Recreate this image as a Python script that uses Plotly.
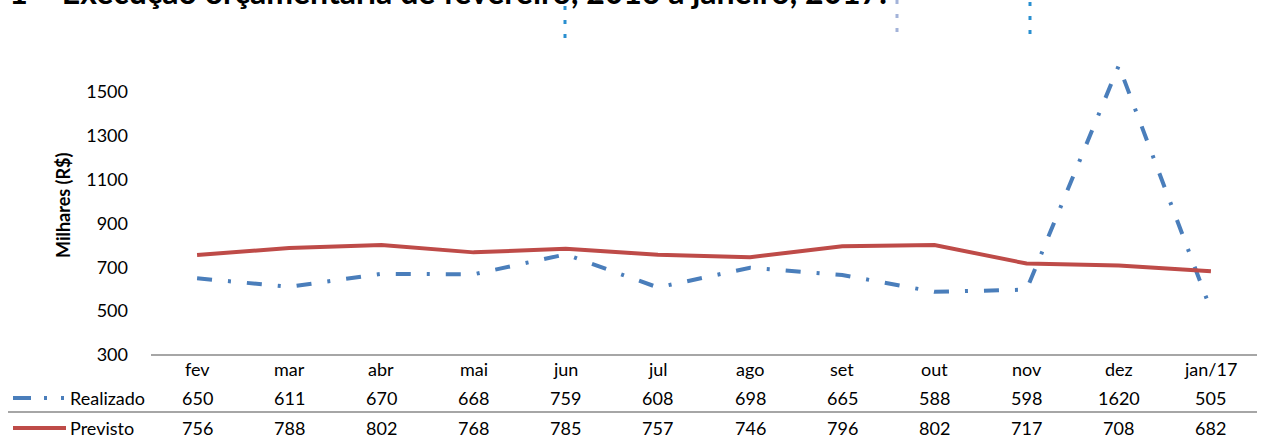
import plotly.graph_objects as go

categories = ["fev", "mar", "abr", "mai", "jun", "jul", "ago", "set", "out", "nov", "dez", "jan/17"]
realizado = [650, 611, 670, 668, 759, 608, 698, 665, 588, 598, 1620, 505]
previsto = [756, 788, 802, 768, 785, 757, 746, 796, 802, 717, 708, 682]
y_ticks = [300, 500, 700, 900, 1100, 1300, 1500]
series_names = ["Realizado", "Previsto"]
title_text = "Gráfico 1 – Execução orçamentária de fevereiro, 2016 a janeiro, 2017."
y_title = "Milhares (R$)"

W, H = 1277, 438
L, R, T, B = 151, 20, 48, 83
PW, PH = W - L - R, H - T - B

BLUE = "#4A7EBB"
RED = "#BE4B48"
GRAY = "#A6A6A6"
FONT = "Lato"
FS = 18


def px_x(px):
    return (px - L) / PW


def px_y(py):
    return (H - B - py) / PH


fig = go.Figure()
fig.add_trace(go.Scatter(
    x=categories, y=realizado, mode="lines", name=series_names[0],
    line=dict(color=BLUE, width=4, dash="15px,16px,3px,16px"),
    cliponaxis=False,
))
fig.add_trace(go.Scatter(
    x=categories, y=previsto, mode="lines", name=series_names[1],
    line=dict(color=RED, width=4),
    cliponaxis=False,
))

annotations = []
# category row and data rows
for i, c in enumerate(categories):
    annotations.append(dict(x=c, xref="x", y=px_y(369), yref="paper", text=c,
                            showarrow=False, xanchor="center", yanchor="middle",
                            font=dict(size=FS, color="#000")))
    annotations.append(dict(x=c, xref="x", y=px_y(398), yref="paper", text=str(realizado[i]),
                            showarrow=False, xanchor="center", yanchor="middle",
                            font=dict(size=FS, color="#000")))
    annotations.append(dict(x=c, xref="x", y=px_y(428), yref="paper", text=str(previsto[i]),
                            showarrow=False, xanchor="center", yanchor="middle",
                            font=dict(size=FS, color="#000")))

# row labels
annotations.append(dict(x=px_x(68), xref="paper", y=px_y(398), yref="paper", text=series_names[0],
                        showarrow=False, xanchor="left", yanchor="middle",
                        font=dict(size=FS, color="#000")))
annotations.append(dict(x=px_x(68), xref="paper", y=px_y(428), yref="paper", text=series_names[1],
                        showarrow=False, xanchor="left", yanchor="middle",
                        font=dict(size=FS, color="#000")))

# y-axis title
annotations.append(dict(x=px_x(63), xref="paper", y=px_y(205), yref="paper", text="<b>" + y_title + "</b>",
                        showarrow=False, xanchor="center", yanchor="middle", textangle=-90,
                        font=dict(size=18, color="#000")))

# cropped title at the top
annotations.append(dict(x=px_x(889), xref="paper", y=px_y(13), yref="paper", text="<b>" + title_text + "</b>",
                        showarrow=False, xanchor="right", yanchor="bottom",
                        font=dict(size=32, color="#000")))

shapes = [
    # x axis baseline
    dict(type="line", xref="paper", yref="paper", x0=0, x1=px_x(1257), y0=px_y(355), y1=px_y(355),
         line=dict(color=GRAY, width=2)),
    # table separator
    dict(type="line", xref="paper", yref="paper", x0=px_x(8), x1=px_x(1257), y0=px_y(412), y1=px_y(412),
         line=dict(color=GRAY, width=2)),
    # legend keys
    dict(type="line", xref="paper", yref="paper", x0=px_x(13), x1=px_x(66), y0=px_y(398), y1=px_y(398),
         line=dict(color=BLUE, width=4, dash="18px,13px,3px,14px,3px,20px")),
    dict(type="line", xref="paper", yref="paper", x0=px_x(13), x1=px_x(66), y0=px_y(428), y1=px_y(428),
         line=dict(color=RED, width=4)),
    # cropped remnants at the top of the picture
    dict(type="line", xref="paper", yref="paper", x0=px_x(565), x1=px_x(565), y0=px_y(6), y1=px_y(40),
         line=dict(color="#2A8FD0", width=3, dash="4px,10px")),
    dict(type="line", xref="paper", yref="paper", x0=px_x(897), x1=px_x(897), y0=px_y(0), y1=px_y(34),
         line=dict(color="#A3B3D9", width=3, dash="4px,10px")),
    dict(type="line", xref="paper", yref="paper", x0=px_x(1030), x1=px_x(1030), y0=px_y(2), y1=px_y(36),
         line=dict(color="#2A8FD0", width=3, dash="4px,10px")),
]

fig.update_layout(
    width=W, height=H,
    margin=dict(l=L, r=R, t=T, b=B, pad=0),
    paper_bgcolor="white", plot_bgcolor="white",
    font=dict(family=FONT, size=FS, color="#000"),
    showlegend=False,
    xaxis=dict(type="category", range=[-0.5, 11.5], showticklabels=False, showgrid=False,
               zeroline=False, showline=False, ticks=""),
    yaxis=dict(range=[300, 1700], tickvals=y_ticks, showgrid=False, zeroline=False,
               showline=False, ticks="", ticklabelstandoff=22,
               tickfont=dict(family=FONT, size=FS, color="#000")),
    annotations=annotations,
    shapes=shapes,
)

fig.write_html("out.html", config={"displayModeBar": False},
               post_script="document.body.style.margin='0';document.body.style.overflow='hidden';")
